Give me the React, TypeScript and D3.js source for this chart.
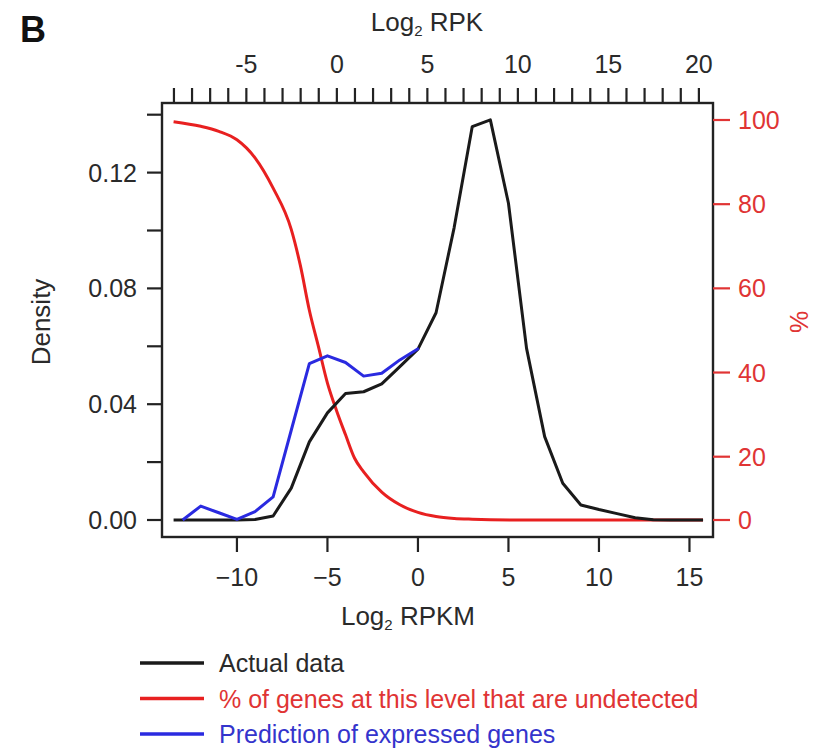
import React, { useEffect } from 'react';
import * as d3 from 'd3';

// Log2 RPKM positions and values
const actualX = [-13.5, -13, -12, -11, -10, -9, -8, -7, -6, -5, -4, -3, -2, -1, 0, 1, 2, 3, 4, 5, 6, 7, 8, 9, 10, 11, 12, 13, 14, 15, 15.75];
const actualY = [0, 0, 0, 0, 0, 0.0002, 0.0014, 0.011, 0.027, 0.037, 0.0437, 0.0443, 0.047, 0.053, 0.059, 0.0716, 0.101, 0.1359, 0.1382, 0.1094, 0.0593, 0.0288, 0.0127, 0.0052, 0.0036, 0.0022, 0.0008, 0.0001, 0, 0, 0];

const predX = [-13, -12, -11, -10, -9, -8, -7, -6, -5, -4, -3, -2, -1, 0.05];
const predY = [0, 0.0048, 0.0025, 0.0002, 0.0029, 0.008, 0.031, 0.054, 0.0567, 0.0544, 0.0497, 0.0507, 0.0553, 0.0593];

const undetX = [-13.5, -12, -11, -10, -9, -8, -7, -6.5, -6, -5.5, -5, -4.5, -4, -3.5, -3, -2, -1, 0, 1, 2, 3, 4, 6, 15.75];
const undetY = [99.6, 98.5, 97.3, 95.3, 91.0, 83.8, 74.0, 65.5, 54.8, 46.2, 37.5, 31.0, 25.2, 19.5, 15.2, 8.8, 4.8, 2.4, 1.1, 0.5, 0.25, 0.1, 0, 0];

const bottomTicks = [-10, -5, 0, 5, 10, 15];
const topLabelTicks = [-5, 0, 5, 10, 15, 20];
const topMinorTicks = d3.range(-9, 21);
const densityTicks = [0, 0.02, 0.04, 0.06, 0.08, 0.1, 0.12, 0.14];
const densityLabels = [0, 0.04, 0.08, 0.12];
const pctTicks = [0, 20, 40, 60, 80, 100];

const legendItems = [
  { label: 'Actual data', color: '#1a1a1a', text: '#2a2a2a' },
  { label: '% of genes at this level that are undetected', color: '#e82020', text: '#e03434' },
  { label: 'Prediction of expressed genes', color: '#2a2ae0', text: '#3434cc' },
];

const FONT = '"Liberation Sans", Arial, Helvetica, sans-serif';

export default function App() {
  useEffect(() => {
    document.body.style.margin = '0';
  }, []);

  const L = 162, R = 713, T = 103, B = 537;
  const x = d3.scaleLinear().domain([-14.14, 16.3]).range([L, R]);
  const xTop = d3.scaleLinear().domain([-9.66, 20.78]).range([L, R]);
  const y = d3.scaleLinear().domain([0, 0.14]).range([520, 114.7]);
  const yPct = d3.scaleLinear().domain([0, 20, 100]).range([520, 456.7, 120]);

  const lineA = d3.line<number>().x((d, i) => x(actualX[i])).y((d) => y(d));
  const lineP = d3.line<number>().x((d, i) => x(predX[i])).y((d) => y(d));
  const lineU = d3.line<number>().x((d, i) => x(undetX[i])).y((d) => yPct(d)).curve(d3.curveMonotoneX);

  const fmtBottom = (v: number) => (v < 0 ? '\u2212' + Math.abs(v) : String(v));
  const fmtTop = (v: number) => (v < 0 ? '-' + Math.abs(v) : String(v));

  const axisColor = '#222';
  const textColor = '#2a2a2a';
  const red = '#e03434';

  return (
    <svg width={816} height={751} style={{ position: 'absolute', left: 0, top: 0, background: '#fff' }} fontFamily={FONT}>
      <rect x={0} y={0} width={816} height={751} fill="#fff" />
      <text x={20} y={42} fontSize={36} fontWeight="bold" fill="#111">B</text>

      {/* curves */}
      <path d={lineU(undetY) || ''} fill="none" stroke="#e82020" strokeWidth={3} strokeLinejoin="round" />
      <path d={lineA(actualY) || ''} fill="none" stroke="#1a1a1a" strokeWidth={3} strokeLinejoin="round" />
      <path d={lineP(predY) || ''} fill="none" stroke="#2a2ae0" strokeWidth={3} strokeLinejoin="round" />

      {/* box */}
      <rect x={L} y={T} width={R - L} height={B - T} fill="none" stroke={axisColor} strokeWidth={2.4} />

      {/* left axis */}
      {densityTicks.map((t) => (
        <line key={'lt' + t} x1={147} x2={L} y1={y(t)} y2={y(t)} stroke={axisColor} strokeWidth={2.2} />
      ))}
      {densityLabels.map((t) => (
        <text key={'ll' + t} x={137} y={y(t)} dy="0.36em" textAnchor="end" fontSize={25} fill={textColor}>
          {d3.format('.2f')(t)}
        </text>
      ))}
      <text transform="translate(50,322) rotate(-90)" textAnchor="middle" fontSize={26} fill={textColor}>Density</text>

      {/* right axis */}
      {pctTicks.map((t) => (
        <g key={'r' + t}>
          <line x1={R} x2={730} y1={yPct(t)} y2={yPct(t)} stroke={red} strokeWidth={2.2} />
          <text x={738} y={yPct(t)} dy="0.36em" fontSize={25} fill={red}>{t}</text>
        </g>
      ))}
      <text transform="translate(808,322) rotate(-90)" textAnchor="middle" fontSize={25} fill={red}>%</text>

      {/* bottom axis */}
      {bottomTicks.map((t) => (
        <g key={'b' + t}>
          <line x1={x(t)} x2={x(t)} y1={B} y2={552} stroke={axisColor} strokeWidth={2.2} />
          <text x={x(t)} y={577} dy="0.36em" textAnchor="middle" fontSize={25} fill={textColor}>{fmtBottom(t)}</text>
        </g>
      ))}
      <text x={408} y={625} textAnchor="middle" fontSize={26} fill={textColor}>
        Log<tspan fontSize={15} dy={5}>2</tspan><tspan dy={-5}> RPKM</tspan>
      </text>

      {/* top axis */}
      {topMinorTicks.map((t) => (
        <line key={'tt' + t} x1={xTop(t)} x2={xTop(t)} y1={88} y2={T} stroke={axisColor} strokeWidth={2.2} />
      ))}
      {topLabelTicks.map((t) => (
        <text key={'tl' + t} x={xTop(t)} y={64} dy="0.36em" textAnchor="middle" fontSize={25} fill={textColor}>{fmtTop(t)}</text>
      ))}
      <text x={427} y={31} textAnchor="middle" fontSize={26} fill={textColor}>
        Log<tspan fontSize={15} dy={5}>2</tspan><tspan dy={-5}> RPK</tspan>
      </text>

      {/* legend */}
      {legendItems.map((item, i) => {
        const yy = 663 + i * 35.5;
        return (
          <g key={item.label}>
            <line x1={140} x2={204} y1={yy} y2={yy} stroke={item.color} strokeWidth={3.5} />
            <text x={219} y={yy} dy="0.36em" fontSize={25} fill={item.text}>{item.label}</text>
          </g>
        );
      })}
    </svg>
  );
}
